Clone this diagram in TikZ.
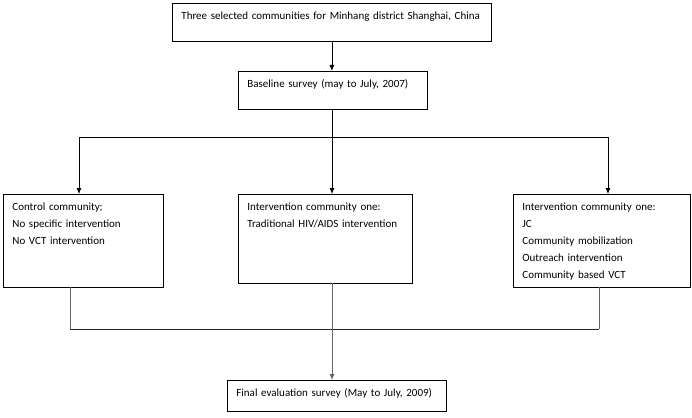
\documentclass[tikz,border=0pt]{standalone}
\usepackage{fontspec}
\setmainfont{Carlito}
\usetikzlibrary{arrows.meta}

\begin{document}
\begin{tikzpicture}[x=1pt, y=-1pt, line width=0.8pt, >={Latex[length=6pt,width=5pt]},
    box/.style={draw, anchor=north west, align=left, inner xsep=9pt, inner ysep=8pt,
        font=\fontsize{11}{17}\selectfont}]
    \useasboundingbox (0,0) rectangle (692,417);
    % boxes
    \node [box, text width=301pt, text depth=14pt] (sites) at (172,3)
        {Three selected communities for Minhang district Shanghai, China};
    \node [box, text width=171pt, text depth=14pt] (baseline) at (238,71)
        {Baseline survey (may to July, 2007)};
    \node [box, text width=142pt, text depth=69pt] (control) at (3,194)
        {Control community;\\No specific intervention\\No VCT intervention};
    \node [box, text width=156pt, text depth=65pt] (trad) at (238,194)
        {Intervention community one:\\Traditional HIV/AIDS intervention};
    \node [box, text width=159pt, text depth=69pt] (vct) at (513,194)
        {Intervention community one:\\JC\\Community mobilization\\Outreach intervention\\Community based VCT};
    \node [box, text width=201pt, text depth=7pt] (final) at (227,380)
        {Final evaluation survey (May to July, 2009)};
    % split and merge points
    \coordinate (split) at (332,137);
    \coordinate (lsplit) at (79,137);
    \coordinate (rsplit) at (608,137);
    \coordinate (merge) at (332,329);
    \coordinate (lmerge) at (70,329);
    \coordinate (rmerge) at (599,329);
    % connectors
    \draw [->] (sites.south) -- (sites.south |- baseline.north);
    \draw (split |- baseline.south) -- (split);
    \draw (lsplit) -- (rsplit);
    \draw [->] (lsplit) -- (lsplit |- control.north);
    \draw [->] (split) -- (split |- trad.north);
    \draw [->] (rsplit) -- (rsplit |- vct.north);
    \draw [black!60] (lmerge |- control.south) -- (lmerge);
    \draw [black!60] (rmerge |- vct.south) -- (rmerge);
    \draw [black!60] (merge |- trad.south) -- (merge);
    \draw [black!85] (lmerge) -- (rmerge);
    \draw [->, black!60] (merge) -- (merge |- final.north);
\end{tikzpicture}
\end{document}
